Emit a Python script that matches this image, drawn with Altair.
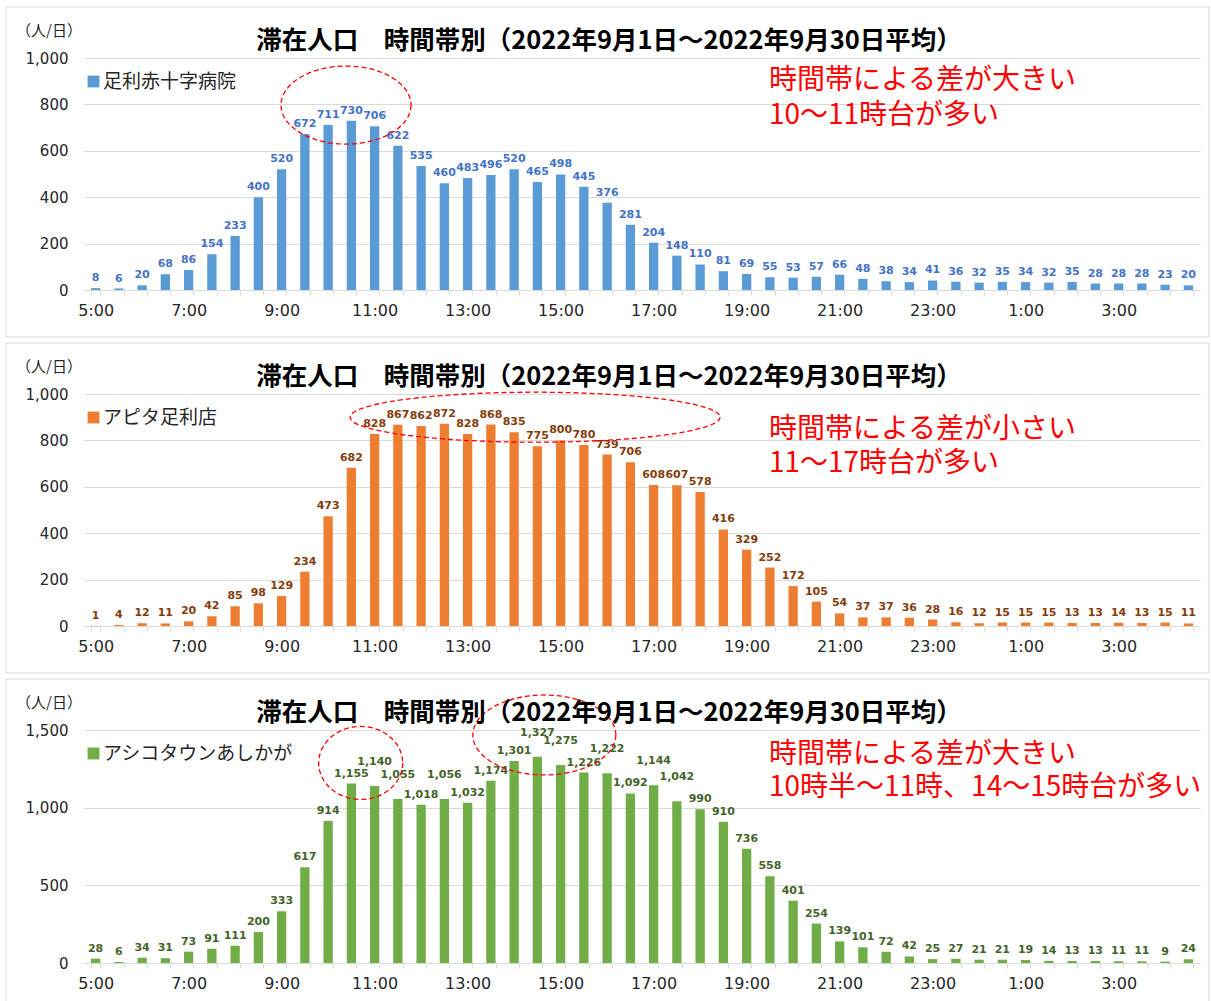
import altair as alt
import pandas as pd

TIMES = ["5:00", "5:30", "6:00", "6:30", "7:00", "7:30", "8:00", "8:30", "9:00", "9:30",
         "10:00", "10:30", "11:00", "11:30", "12:00", "12:30", "13:00", "13:30", "14:00", "14:30",
         "15:00", "15:30", "16:00", "16:30", "17:00", "17:30", "18:00", "18:30", "19:00", "19:30",
         "20:00", "20:30", "21:00", "21:30", "22:00", "22:30", "23:00", "23:30", "0:00", "0:30",
         "1:00", "1:30", "2:00", "2:30", "3:00", "3:30", "4:00", "4:30"]
TICK_LABELS = ["5:00", "7:00", "9:00", "11:00", "13:00", "15:00", "17:00", "19:00",
               "21:00", "23:00", "1:00", "3:00"]

HOSPITAL = [8, 6, 20, 68, 86, 154, 233, 400, 520, 672, 711, 730, 706, 622, 535, 460,
            483, 496, 520, 465, 498, 445, 376, 281, 204, 148, 110, 81, 69, 55, 53, 57,
            66, 48, 38, 34, 41, 36, 32, 35, 34, 32, 35, 28, 28, 28, 23, 20]
APITA = [1, 4, 12, 11, 20, 42, 85, 98, 129, 234, 473, 682, 828, 867, 862, 872,
         828, 868, 835, 775, 800, 780, 739, 706, 608, 607, 578, 416, 329, 252, 172, 105,
         54, 37, 37, 36, 28, 16, 12, 15, 15, 15, 13, 13, 14, 13, 15, 11]
ASHICO = [28, 6, 34, 31, 73, 91, 111, 200, 333, 617, 914, 1155, 1140, 1055, 1018, 1056,
          1032, 1174, 1301, 1327, 1275, 1226, 1222, 1092, 1144, 1042, 990, 910, 736, 558, 401, 254,
          139, 101, 72, 42, 25, 27, 21, 21, 19, 14, 13, 13, 11, 11, 9, 24]

TITLE = "滞在人口　時間帯別（2022年9月1日～2022年9月30日平均）"
UNIT = "（人/日）"

NOTES1 = ["時間帯による差が大きい", "10～11時台が多い"]
NOTES2 = ["時間帯による差が小さい", "11～17時台が多い"]
NOTES3 = ["時間帯による差が大きい", "10時半～11時、14～15時台が多い"]

JP = "Noto Sans CJK JP"
LAT = "DejaVu Sans"
W = 1116
STEP = W / 48
LABEL_FS = 11
LABEL_DY = -7


def ellipse_path(r):
    k = 0.5523
    return (f"M 1 0 C 1 {k*r:.4f} {k:.4f} {r:.4f} 0 {r:.4f} "
            f"C {-k:.4f} {r:.4f} -1 {k*r:.4f} -1 0 "
            f"C -1 {-k*r:.4f} {-k:.4f} {-r:.4f} 0 {-r:.4f} "
            f"C {k:.4f} {-r:.4f} 1 {-k*r:.4f} 1 0 Z")


def qx(field):
    return alt.X(field, type="quantitative",
                 scale=alt.Scale(domain=[-0.5, 47.5], nice=False, zero=False), axis=None)


def label_lift(values, ymax, height, lift_px=14, limit_px=221):
    """Excel-like auto placement: choose which labels to lift one step so that
    neighbouring labels collide as little as possible (Viterbi over lift/no-lift)."""
    ppv = height / ymax
    n = len(values)
    widths = [sum(0.38 * LABEL_FS if c == "," else 0.696 * LABEL_FS for c in f"{v:,}") for v in values]
    base = [v * ppv for v in values]

    def ypos(i, s):
        return base[i] + s * lift_px

    def unary(i, s):
        if s and ypos(i, s) > limit_px:
            return 1e9
        return 2.0 * s

    def pair(i, s0, s1):
        if STEP >= (widths[i - 1] + widths[i]) / 2 - 3:
            return 0.0
        d = abs(ypos(i, s1) - ypos(i - 1, s0))
        return max(0.0, 11 - d) * 10

    cost = [[unary(0, 0), unary(0, 1)]]
    back = [[0, 0]]
    for i in range(1, n):
        row, brow = [], []
        for s in (0, 1):
            opts = [cost[i - 1][p] + pair(i, p, s) for p in (0, 1)]
            p = 0 if opts[0] <= opts[1] else 1
            row.append(opts[p] + unary(i, s))
            brow.append(p)
        cost.append(row)
        back.append(brow)
    s = 0 if cost[-1][0] <= cost[-1][1] else 1
    states = [0] * n
    for i in range(n - 1, -1, -1):
        states[i] = s
        s = back[i][s]
    return [st * lift_px / ppv for st in states]


def panel(name, values, color, label_color, ymax, ystep, height, ellipses, notes, note_pos, note_vals):
    lifts = label_lift(values, ymax, height)
    df = pd.DataFrame({"time": TIMES, "value": values, "idx": list(range(48)), "series": name,
                       "ylab": [v + l for v, l in zip(values, lifts)]})
    ticks_js = "[" + ",".join(f"'{t}'" for t in TICK_LABELS) + "]"
    yenc = alt.Y("value:Q", scale=alt.Scale(domain=[0, ymax], nice=False),
                 axis=alt.Axis(title=None, values=list(range(0, ymax + 1, ystep)), format=",.0f",
                               domain=False, ticks=False, labelPadding=16, labelFontSize=15,
                               labelFont=LAT, labelColor="#262626", gridColor="#d9d9d9"))
    bars = alt.Chart(df).mark_bar(color=color).encode(
        x=alt.X("time:N", sort=TIMES,
                scale=alt.Scale(paddingInner=0.6, paddingOuter=0.3),
                axis=alt.Axis(title=None, labelAngle=0, tickBand="extent",
                              labelExpr=f"indexof({ticks_js}, datum.label) >= 0 ? datum.label : ''",
                              labelOverlap=False, domainColor="#d9d9d9", tickColor="#d9d9d9",
                              tickSize=5, labelFontSize=16, labelFont=LAT, labelColor="#262626",
                              labelPadding=7, grid=False)),
        y=yenc,
        color=alt.Color("series:N", scale=alt.Scale(domain=[name], range=[color]),
                        legend=alt.Legend(orient="none", legendX=0, legendY=14, title=None,
                                          symbolType="square", symbolSize=140,
                                          symbolStrokeWidth=0, labelFont=JP, labelFontSize=19,
                                          labelColor="#262626", labelLimit=400, labelOffset=0)),
    )
    labels = alt.Chart(df).mark_text(font=LAT, fontSize=LABEL_FS, fontWeight="bold", color=label_color,
                                     baseline="alphabetic", dy=LABEL_DY).encode(
        x=qx("idx"), y=alt.Y("ylab:Q"), text=alt.Text("value:Q", format=","))
    layers = [bars, labels]
    for (pos, val, w, h) in ellipses:
        edf = pd.DataFrame({"pos": [pos], "value": [val]})
        layers.append(alt.Chart(edf).mark_point(shape=ellipse_path(h / w), size=w * w,
                                                filled=False, stroke="#ff0000", strokeWidth=1.3,
                                                strokeDash=[5, 3], opacity=1).encode(
            x=qx("pos"), y=alt.Y("value:Q")))
    ndf = pd.DataFrame({"pos": [note_pos, note_pos], "value": note_vals, "note": notes})
    layers.append(alt.Chart(ndf).mark_text(font=JP, fontSize=28, color="#ff0000", align="left",
                                           baseline="middle").encode(
        x=qx("pos"), y=alt.Y("value:Q"), text="note:N"))
    tdf = pd.DataFrame({"t": [TITLE]})
    layers.append(alt.Chart(tdf).mark_text(font=JP, fontSize=25.5, fontWeight="bold", color="#000000",
                                           align="center", baseline="middle").encode(
        x=alt.value(525), y=alt.value(-17), text="t:N"))
    udf = pd.DataFrame({"t": [UNIT]})
    layers.append(alt.Chart(udf).mark_text(font=JP, fontSize=15, color="#262626",
                                           align="center", baseline="middle").encode(
        x=alt.value(-35), y=alt.value(-27), text="t:N"))
    bdf = pd.DataFrame({"t": [0]})
    layers.append(alt.Chart(bdf).mark_rect(fillOpacity=0, stroke="#d9d9d9", strokeWidth=1).encode(
        x=alt.value(-78), x2=alt.value(1125), y=alt.value(-51), y2=alt.value(279)))
    return alt.layer(*layers).resolve_scale(x="independent").properties(width=W, height=height)


p1 = panel("足利赤十字病院", HOSPITAL, "#5B9BD5", "#4472C4", 1000, 200, 232,
           [(10.77, 797, 130, 78)], NOTES1, 28.96, [901, 750])
p2 = panel("アピタ足利店", APITA, "#ED7D31", "#843C0C", 1000, 200, 232,
           [(18.9, 900, 370, 50)], NOTES2, 28.96, [845, 698])
p3 = panel("アシコタウンあしかが", ASHICO, "#70AD47", "#44632A", 1500, 500, 233,
           [(11.4, 1288, 84, 73), (19.3, 1468, 143, 80)], NOTES3, 28.96, [1339, 1127])

chart = alt.vconcat(p1, p2, p3, spacing=4).resolve_scale(color="independent").properties(
    padding={"left": 5, "top": 6, "right": 0, "bottom": 0},
    background="#ffffff",
).configure_view(strokeWidth=0)

chart.save("out.html", embed_options={"renderer": "svg", "actions": False})
